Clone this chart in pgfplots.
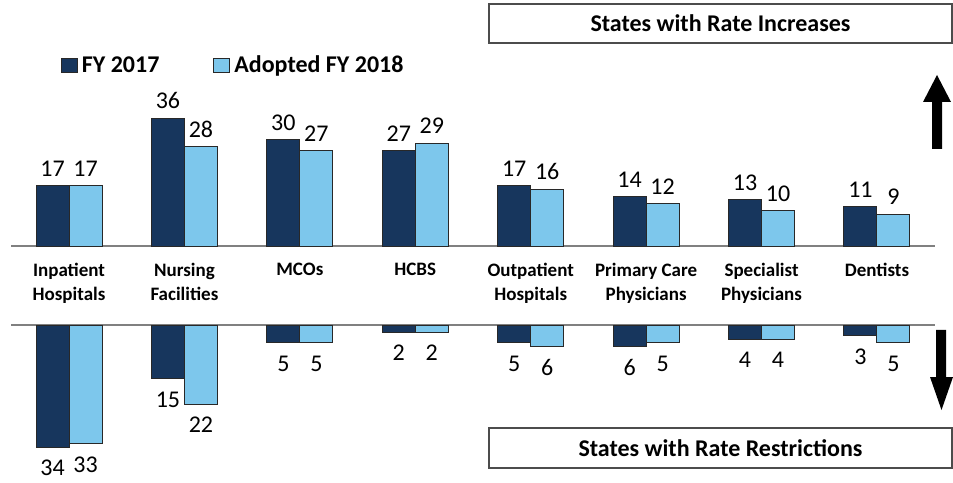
\documentclass[border=0pt]{standalone}
\usepackage{pgfplots}
\pgfplotsset{compat=1.18}
\usepackage{fontspec}
\setmainfont{Carlito}
\definecolor{dark}{RGB}{23,54,93}
\definecolor{light}{RGB}{125,199,236}
\definecolor{edge}{RGB}{40,40,40}
\definecolor{baseline}{RGB}{128,128,128}

\begin{document}
\begin{tikzpicture}
\begin{scope}[x=0.5pt,y=0.5pt]
\path[use as bounding box] (0,0) rectangle (953,478);
\end{scope}

% Upper axis: rate increases
\begin{axis}[
  at={(5.65pt,116pt)}, anchor=south west,
  scale only axis, width=461.7pt, height=70.94pt,
  xmin=-0.5, xmax=7.5, ymin=0, ymax=40,
  enlargelimits=false, clip=false,
  ybar, bar width=16.5pt,
  axis x line=bottom, axis y line=none,
  axis line style={-, draw=baseline, line width=1pt},
  xtick={0,1,2,3,4,5,6,7},
  xticklabels={{Inpatient\\Hospitals},{Nursing\\Facilities},{MCOs},{HCBS},{Outpatient\\Hospitals},{Primary Care\\Physicians},{Specialist\\Physicians},{Dentists}},
  xticklabel style={font=\bfseries\fontsize{9.5}{12}\selectfont, align=center, anchor=north, yshift=-5pt},
  major tick length=0pt,
  ytick=\empty,
  nodes near coords,
  /pgf/number format/assume math mode=true,
  every node near coord/.append style={font=\fontsize{12}{14}\selectfont, anchor=south, yshift=1pt},
  legend style={at={(axis description cs:0.0532,1.27)}, anchor=west, draw=none, fill=none,
    font=\bfseries\fontsize{12}{14}\selectfont, inner sep=0pt,
    /tikz/every even column/.append style={column sep=25pt}},
  legend columns=2,
]
\addplot[fill=dark, draw=edge, line width=0.5pt, bar shift=-8.25pt,
  legend image code/.code={\draw[fill=dark, draw=edge, line width=0.5pt] (2.5pt,-3.5pt) rectangle (10.5pt,3.5pt);}]
  coordinates {(0,17) (1,36) (2,30) (3,27) (4,17) (5,14) (6,13) (7,11)};
\addplot[fill=light, draw=edge, line width=0.5pt, bar shift=8.25pt,
  legend image code/.code={\draw[fill=light, draw=edge, line width=0.5pt] (2.5pt,-3.5pt) rectangle (10.5pt,3.5pt);}]
  coordinates {(0,17) (1,28) (2,27) (3,29) (4,16) (5,12) (6,10) (7,9)};
\legend{FY 2017, Adopted FY 2018}
\end{axis}

% Lower axis: rate restrictions
\begin{axis}[
  at={(5.65pt,11.8pt)}, anchor=south west,
  scale only axis, width=461.7pt, height=64.69pt,
  xmin=-0.5, xmax=7.5, ymin=-36, ymax=0,
  enlargelimits=false, clip=false,
  ybar, bar width=16.5pt,
  axis x line=top, axis y line=none,
  axis line style={-, draw=baseline, line width=1pt},
  xtick=\empty, ytick=\empty,
  point meta=explicit,
  nodes near coords,
  /pgf/number format/assume math mode=true,
  every node near coord/.append style={font=\fontsize{12}{14}\selectfont, anchor=north, yshift=-3pt},
]
\addplot[fill=dark, draw=edge, line width=0.5pt, bar shift=-8.25pt]
  coordinates {(0,-34)[34] (1,-15)[15] (2,-5)[5] (3,-2)[2] (4,-5)[5] (5,-6)[6] (6,-4)[4] (7,-3)[3]};
\addplot[fill=light, draw=edge, line width=0.5pt, bar shift=8.25pt]
  coordinates {(0,-33)[33] (1,-22)[22] (2,-5)[5] (3,-2)[2] (4,-6)[6] (5,-5)[5] (6,-4)[4] (7,-5)[5]};
\end{axis}

\begin{scope}[x=0.5pt,y=0.5pt]
% Boxes
\draw[draw=gray!60!black, line width=0.6pt] (489,435) rectangle (952,474);
\node[font=\bfseries\fontsize{12}{14}\selectfont] at (720.5,454.5) {States with Rate Increases};
\draw[draw=gray!60!black, line width=0.6pt] (489,10) rectangle (952,50);
\node[font=\bfseries\fontsize{12}{14}\selectfont] at (720.5,30) {States with Rate Restrictions};
% Arrows
\fill[black] (932,329) -- (942,329) -- (942,376) -- (951,376) -- (937,403) -- (923,376) -- (932,376) -- cycle;
\fill[black] (936,148) -- (946,148) -- (946,101) -- (953,101) -- (941.5,68) -- (930,101) -- (936,101) -- cycle;
\end{scope}
\end{tikzpicture}
\end{document}
